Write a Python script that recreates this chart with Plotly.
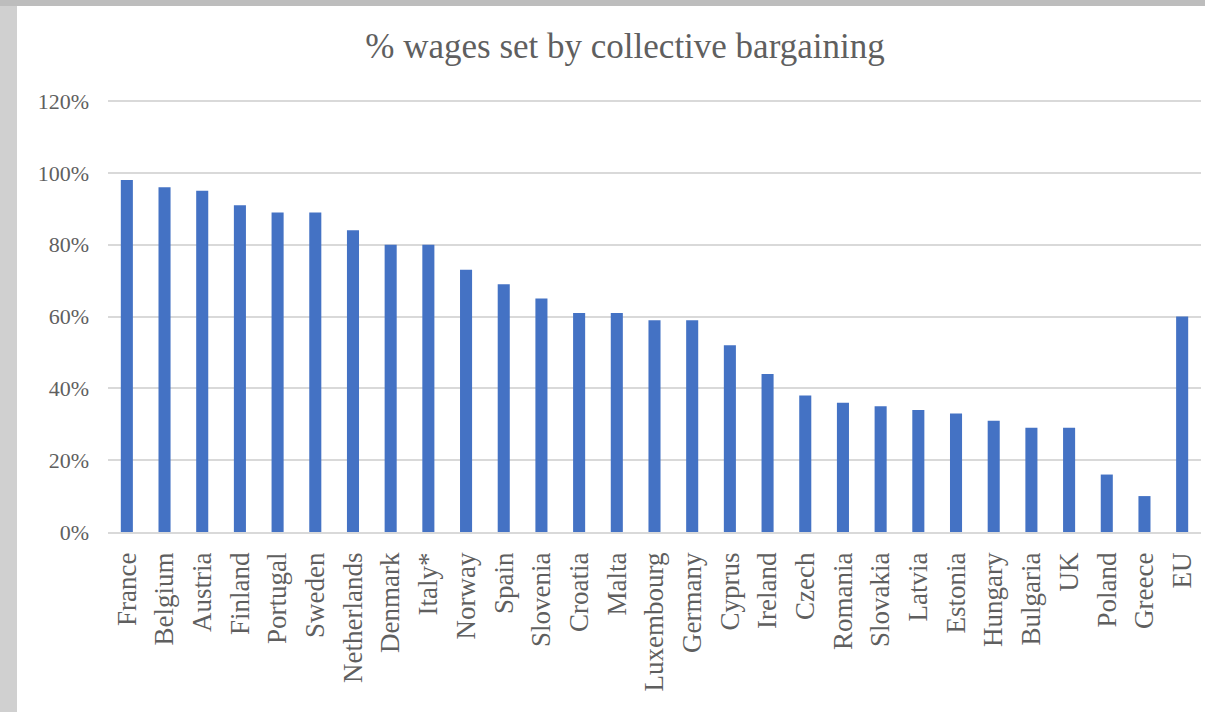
import plotly.graph_objects as go

countries = ["France", "Belgium", "Austria", "Finland", "Portugal", "Sweden", "Netherlands",
             "Denmark", "Italy*", "Norway", "Spain", "Slovenia", "Croatia", "Malta",
             "Luxembourg", "Germany", "Cyprus", "Ireland", "Czech", "Romania", "Slovakia",
             "Latvia", "Estonia", "Hungary", "Bulgaria", "UK", "Poland", "Greece", "EU"]
coverage = [98, 96, 95, 91, 89, 89, 84, 80, 80, 73, 69, 65, 61, 61, 59, 59, 52, 44, 38,
            36, 35, 34, 33, 31, 29, 29, 16, 10, 60]
y_ticks = [0, 20, 40, 60, 80, 100, 120]
y_tick_labels = ["0%", "20%", "40%", "60%", "80%", "100%", "120%"]

FONT = "Liberation Serif"
GREY = "#5f5f5f"

W, H = 1219, 712
L, R, T, B = 108, 18, 100, 180
PW, PH = W - L - R, H - T - B

fig = go.Figure(go.Bar(
    x=countries, y=coverage,
    marker=dict(color="#4472C4", line=dict(width=0)),
    hoverinfo="x+y",
))

fig.update_layout(
    width=W, height=H,
    margin=dict(l=L, r=R, t=T, b=B, autoexpand=False),
    paper_bgcolor="white", plot_bgcolor="white",
    bargap=0.68,
    showlegend=False,
    title=dict(text="% wages set by collective bargaining", x=(363 + 887) / 2 / W,
               xref="container", xanchor="center",
               y=1 - 46 / H, yanchor="middle",
               font=dict(family=FONT, size=35, color=GREY)),
    font=dict(family=FONT, color=GREY),
    xaxis=dict(tickangle=-90, tickfont=dict(size=27, color=GREY), showgrid=False,
               showline=True, linecolor="#d9d9d9", linewidth=1.5, ticks="",
               ticklen=0, ticklabelstandoff=8, automargin=False),
    yaxis=dict(range=[0, 120.3], tickvals=y_ticks, ticktext=y_tick_labels,
               tickfont=dict(size=22, color=GREY), showgrid=True, gridcolor="#d9d9d9",
               gridwidth=1.5, zeroline=False, showline=False, ticks="", ticklen=0,
               ticklabelstandoff=18, automargin=False),
    shapes=[
        dict(type="rect", xref="paper", yref="paper", x0=-L / PW, x1=(-L + 17) / PW,
             y0=-B / PH, y1=(PH + T) / PH, fillcolor="#d0d0d0", line=dict(width=0),
             layer="above"),
        dict(type="rect", xref="paper", yref="paper", x0=-L / PW, x1=(PW + 4) / PW,
             y0=(PH + T - 6) / PH, y1=(PH + T) / PH, fillcolor="#bdbdbd",
             line=dict(width=0), layer="above"),
    ],
)

fig.write_html("out.html", config={"displayModeBar": False},
               post_script="document.body.style.margin='0';document.body.style.overflow='hidden';")
